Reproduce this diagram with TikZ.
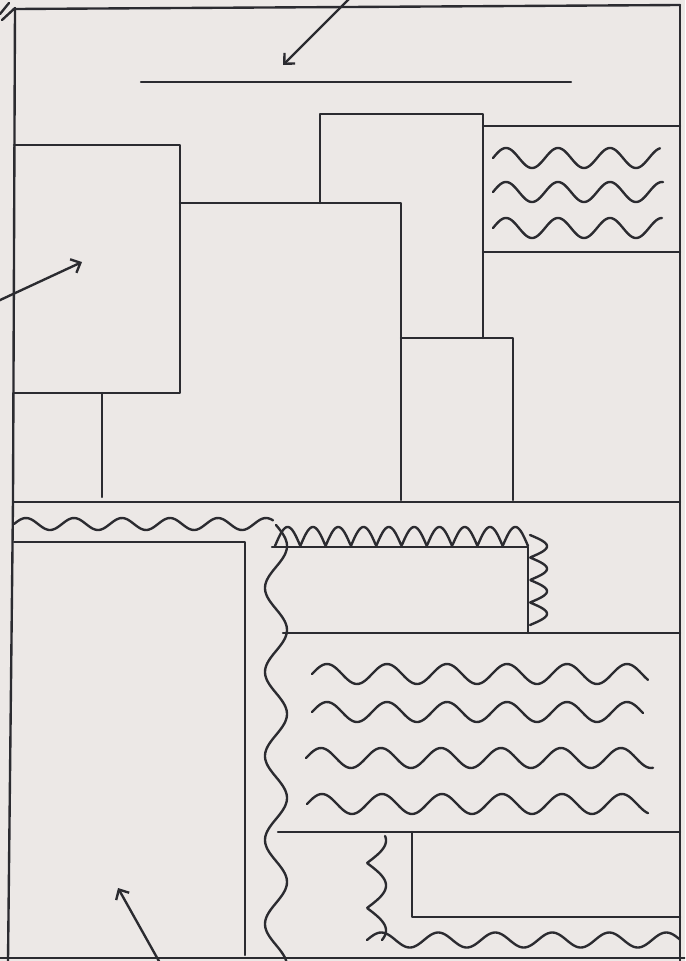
\documentclass[tikz,border=0pt]{standalone}
\usetikzlibrary{arrows.meta}
\definecolor{paper}{HTML}{ECE8E6}
\definecolor{inkc}{HTML}{2B2B30}
\begin{document}
\begin{tikzpicture}[x=0.04cm,y=-0.04cm,line join=round,line cap=round,
  ink/.style={draw=inkc,line width=2.7pt},
  arr/.style={ink,-{Straight Barb[length=9pt,width=17pt]}}]
\fill[paper] (0,0) rectangle (685,961);
\useasboundingbox (0,0) rectangle (685,961);
\clip (0,0) rectangle (685,961);
% frame
\draw[ink] (15,8) -- (13,500) -- (8,961);
\draw[ink] (14,9) -- (680,5);
\draw[ink] (680,5) -- (680,961);
\draw[ink] (0,958) -- (685,958);
\draw[ink] (0,14) -- (9,3);
\draw[ink] (2,20) -- (15,8);
% top section
\draw[ink] (141,82) -- (571,82);
\draw[ink] (14,145) -- (180,145) -- (180,393) -- (14,393);
\draw[ink] (102,393) -- (102,497);
\draw[ink] (180,203) -- (401,203) -- (401,500);
\draw[ink] (320,203) -- (320,114) -- (483,114) -- (483,338);
\draw[ink] (401,338) -- (513,338) -- (513,500);
\draw[ink] (483,126) -- (680,126);
\draw[ink] (483,252) -- (680,252);
\foreach \c/\a/\b in {158/493/660,192/493/663,228/493/662}
  \draw[ink] plot[domain=\a:\b,samples=120,smooth] (\x,{\c-10*sin((\x-493)*(360/52))});
\draw[ink] (13,502) -- (680,502);
% bottom section
\draw[ink] plot[domain=14:273,samples=120,smooth] (\x,{524-6*sin((\x-14)*(360/48))});
\draw[ink] (14,542) -- (245,542) -- (245,955);
\draw[ink] plot[domain=525:961,samples=200,smooth,variable=\t] ({276+11*sin((\t-525)*(360/84))},\t);
\draw[ink] (272,547) -- (528,547) -- (528,633);
\draw[ink] plot[domain=275:528,samples=300,variable=\t] (\t,{546-19*abs(sin((\t-275)*(180/25.3)))});
\draw[ink] plot[domain=535:625,samples=200,variable=\t] ({530+17*abs(sin((\t-535)*(180/22.5)))},\t);
\draw[ink] (283,633) -- (680,633);
\foreach \c/\a/\b in {674/312/648,712/312/643,758/306/653,804/307/648}
  \draw[ink] plot[domain=\a:\b,samples=160,smooth] (\x,{\c-10*sin((\x-\a)*6)});
\draw[ink] (278,832) -- (680,832);
\draw[ink] (412,832) -- (412,917) -- (680,917);
\draw[ink] plot[domain=836:940,samples=200,variable=\t] ({367+19*abs(sin((\t-818)*4))},\t);
\draw[ink] plot[domain=367:680,samples=200,smooth] (\x,{940-7.5*sin((\x-367)*(360/57))});
% arrows
\coordinate (a1s) at (350,-2);
\coordinate (a1e) at (283,65);
\coordinate (a2s) at (-2,301);
\coordinate (a2e) at (82,262);
\coordinate (a3s) at (160,963);
\coordinate (a3e) at (118,888);
\draw[arr] (a1s) -- (a1e);
\draw[arr] (a2s) -- (a2e);
\draw[arr] (a3s) -- (a3e);
\end{tikzpicture}
\end{document}
